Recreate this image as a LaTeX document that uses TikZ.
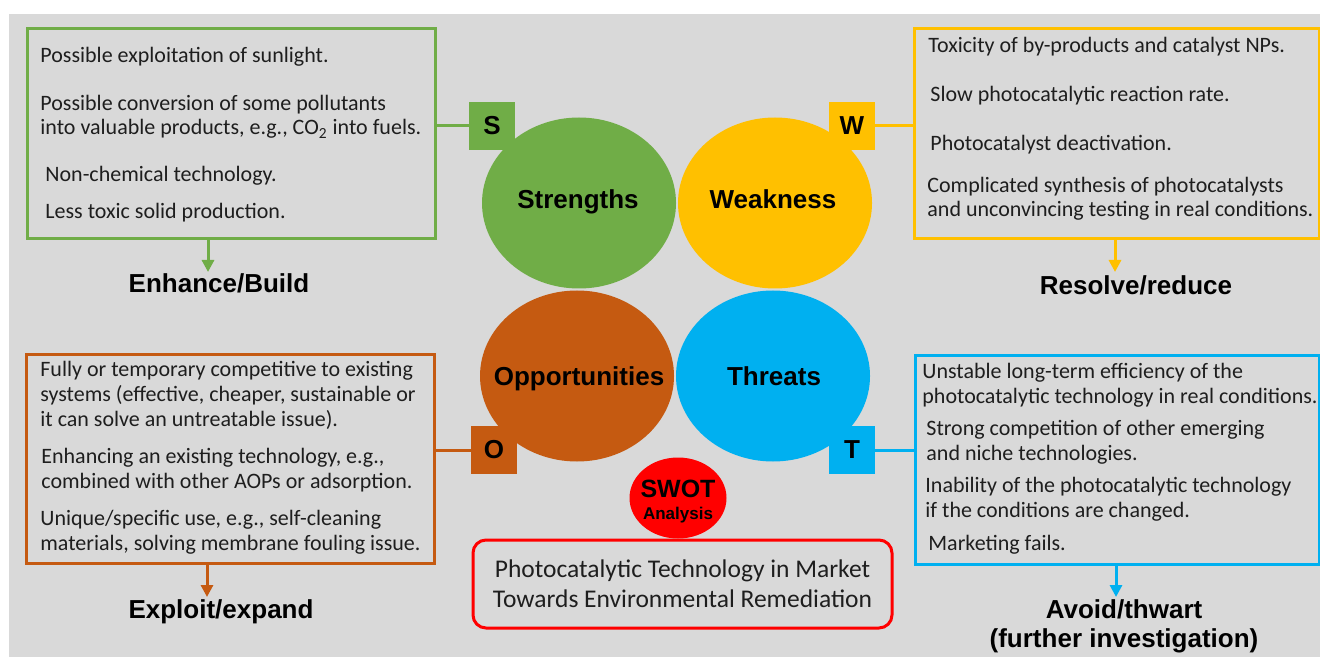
\documentclass[tikz,border=0pt]{standalone}
\usepackage{fontspec}
\setmainfont{Carlito}
\newfontfamily\labelfont{Liberation Sans}
\usetikzlibrary{arrows.meta,shapes.geometric,positioning}
\definecolor{swotgreen}{RGB}{112,173,71}
\definecolor{swotgold}{RGB}{255,192,0}
\definecolor{swotrust}{RGB}{197,90,17}
\definecolor{swotblue}{RGB}{0,176,240}
\definecolor{swotred}{RGB}{255,0,0}
\definecolor{panelgray}{RGB}{217,217,217}
\definecolor{inkgray}{RGB}{30,30,30}

\begin{document}
\begin{tikzpicture}[x=.5pt,y=-.5pt,line cap=butt,
 % multi-line items sit on the baseline of their last line
 item/.style={anchor=base west,inner sep=0,align=left,text=inkgray,
   font=\fontsize{11}{12.3}\selectfont},
 blob/.style={ellipse,minimum width=97pt,minimum height=85.5pt,inner sep=0},
 blobtext/.style={anchor=base,inner sep=0,font=\labelfont\bfseries\fontsize{13}{15}\selectfont},
 tag/.style={minimum width=23pt,minimum height=24pt,inner sep=0,
   font=\labelfont\bfseries\fontsize{13}{15}\selectfont},
 panel/.style={draw,line width=1.5pt,anchor=north west,inner sep=0},
 verdict/.style={align=center,font=\labelfont\bfseries\fontsize{13}{14.5}\selectfont},
 link/.style={line width=1.5pt},
 drop/.style={link,-{Triangle[length=6pt,width=6pt]}}]
 \useasboundingbox (0,0) rectangle (1320,657);
 \fill[panelgray] (9,14) rectangle (1320,657);

 % four quarters of the chart
 \node[tag,fill=swotgreen] (stag) at (492,126) {S};
 \node[tag,fill=swotgold] (wtag) at (852,126) {W};
 \node[tag,fill=swotrust] (otag) at (494,450) {O};
 \node[tag,fill=swotblue] (ttag) at (852,450) {T};
 \node[blob,fill=swotgreen] (strengths) at (579,203) {};
 \node[blob,fill=swotgold] (weakness) at (775,203) {};
 \node[blob,fill=swotrust] (opportunities) at (577,376) {};
 \node[blob,fill=swotblue] (threats) at (773,376) {};
 \node[blobtext] (stext) at (578,209) {Strengths};
 \node[blobtext] (wtext) at (773,209) {Weakness};
 \node[blobtext] (otext) at (579,385) {Opportunities};
 \node[blobtext] (ttext) at (774,385) {Threats};

 % boxes with the points of each quarter
 \node[panel,draw=swotgreen,minimum width=204pt,minimum height=105pt] (sbox) at (26,27) {};
 \node[panel,draw=swotgold,minimum width=202.5pt,minimum height=105pt] (wbox) at (913,27) {};
 \node[panel,draw=swotrust,minimum width=204pt,minimum height=104.5pt] (obox) at (25,353) {};
 \node[panel,draw=swotblue,minimum width=202pt,minimum height=104.5pt] (tbox) at (914,354) {};
 \draw[link,swotgreen] (stag.west) -- (stag.west -| sbox.east);
 \draw[link,swotgold] (wtag.east) -- (wtag.east -| wbox.west);
 \draw[link,swotrust] (otag.west) -- (otag.west -| obox.east);
 \draw[link,swotblue] (ttag.east) -- (ttag.east -| tbox.west);

 \node[item] (s1) at (40,63) {Possible exploitation of sunlight.};
 \node[item] (s2) at (40,135) {Possible conversion of some pollutants\\
   into valuable products, e.g., CO\textsubscript{2} into fuels.};
 \node[item] (s3) at (45,182) {Non-chemical technology.};
 \node[item] (s4) at (45,219) {Less toxic solid production.};

 \node[item] (w1) at (928,53) {Toxicity of by-products and catalyst NPs.};
 \node[item] (w2) at (930,102) {Slow photocatalytic reaction rate.};
 \node[item] (w3) at (930,151) {Photocatalyst deactivation.};
 \node[item] (w4) at (927,217) {Complicated synthesis of photocatalysts\\
   and unconvincing testing in real conditions.};

 \node[item] (o1) at (40,426) {Fully or temporary competitive to existing\\
   systems (effective, cheaper, sustainable or\\
   it can solve an untreatable issue).};
 \node[item] (o2) at (41,488) {Enhancing an existing technology, e.g.,\\
   combined with other AOPs or adsorption.};
 \node[item] (o3) at (40,550) {Unique/specific use, e.g., self-cleaning\\
   materials, solving membrane fouling issue.};

 \node[item] (t1) at (922,403) {Unstable long-term efficiency of the\\
   photocatalytic technology in real conditions.};
 \node[item] (t2) at (926,460) {Strong competition of other emerging\\
   and niche technologies.};
 \node[item] (t3) at (925,517) {Inability of the photocatalytic technology\\
   if the conditions are changed.};
 \node[item] (t4) at (928,550) {Marketing fails.};

 % what to do with each quarter
 \node[verdict] (sverdict) at (219,283) {Enhance/Build};
 \node[verdict] (wverdict) at (1136,285) {Resolve/reduce};
 \node[verdict] (overdict) at (221,612) {Exploit/expand};
 \node[verdict] (tverdict) at (1124,626) {Avoid/thwart\\(further investigation)};
 \coordinate (sdrop) at (208,272);
 \coordinate (wdrop) at (1115,272);
 \coordinate (odrop) at (207,597);
 \coordinate (tdrop) at (1116,597);
 \draw[drop,swotgreen] (sdrop |- sbox.south) -- (sdrop);
 \draw[drop,swotgold] (wdrop |- wbox.south) -- (wdrop);
 \draw[drop,swotrust] (odrop |- obox.south) -- (odrop);
 \draw[drop,swotblue] (tdrop |- tbox.south) -- (tdrop);

 % title
 \node[ellipse,fill=swotred,minimum width=48.5pt,minimum height=40.5pt,inner sep=0]
   (swot) at (678,498) {};
 \node[align=center,inner sep=0,font=\labelfont\bfseries] (swottext) at (678,502)
   {\fontsize{12.5}{12.5}\selectfont SWOT\\[-1pt]\fontsize{8.5}{12.5}\selectfont Analysis};
 \node[draw=swotred,line width=1.5pt,rounded corners=6.5pt,minimum width=209.5pt,
   minimum height=44pt,align=center,text=inkgray,
   font=\fontsize{12.75}{15}\selectfont] (market) at (682.5,584)
   {Photocatalytic Technology in Market\\Towards Environmental Remediation};
\end{tikzpicture}
\end{document}
